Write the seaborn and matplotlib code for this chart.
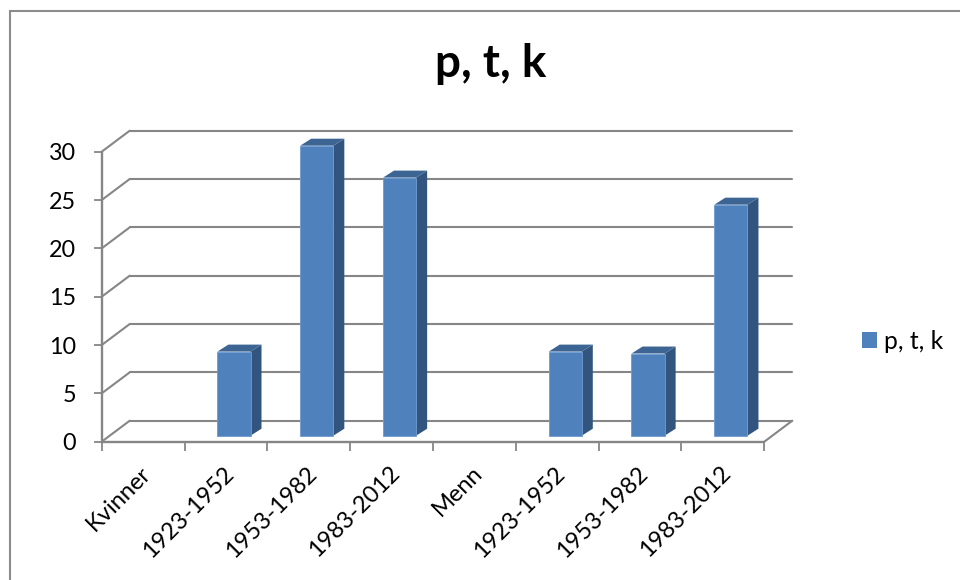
import matplotlib
matplotlib.use("Agg")
import matplotlib.pyplot as plt
import numpy as np
import seaborn as sns
from matplotlib.lines import Line2D
from matplotlib.patches import Polygon
from matplotlib.transforms import Affine2D

slots = list(range(8))
labels = ["Kvinner", "1923-1952", "1953-1982", "1983-2012",
          "Menn", "1923-1952", "1953-1982", "1983-2012"]
values = [np.nan, 8.7, 30.0, 26.7, np.nan, 8.7, 8.5, 23.9]
y_ticks = [0, 5, 10, 15, 20, 25, 30]
series_name = "p, t, k"

FRONT = "#4F81BD"
SIDE = "#32557F"
TOP = "#3D6594"
GRID = "#868686"
TEXT = "#000000"

sns.set_theme(style="white")
plt.rcParams["font.family"] = ["Lato", "DejaVu Sans"]

W, H = 960, 580
fig = plt.figure(figsize=(W / 100, H / 100), dpi=100, facecolor="white")
ax = fig.add_axes([101.7 / W, 1 - 441.7 / H, 662.6 / W, 290 / H])

sns.barplot(x=slots, y=values, order=slots, color=FRONT, width=0.4, saturation=1,
            label=series_name, legend=False, ax=ax, zorder=4)
ax.set_xlim(-0.5, 7.5)
ax.set_ylim(0, 30)
ax.set_xlabel("")
ax.set_ylabel("")
for spine in ax.spines.values():
    spine.set_visible(False)


def shifted(dx, dy):
    return ax.transData + Affine2D().translate(dx, dy)


# Back wall, side wall and floor of the pseudo-3D box
WALL_DX, WALL_DY = 28, 21
back = shifted(WALL_DX, WALL_DY)
for v in y_ticks:
    ax.add_line(Line2D([-0.5, 7.5], [v, v], transform=back, color=GRID, lw=1.5,
                       clip_on=False, zorder=1))
    (sx, sy) = ax.transData.transform((-0.5, v))
    ax.add_line(Line2D([sx, sx + WALL_DX], [sy, sy + WALL_DY], transform=None,
                       color=GRID, lw=1.5, clip_on=False, zorder=1))
(rx, ry) = ax.transData.transform((7.5, 0))
ax.add_line(Line2D([rx, rx + WALL_DX], [ry, ry + WALL_DY], transform=None,
                   color=GRID, lw=1.5, clip_on=False, zorder=1))
ax.add_line(Line2D([-0.5, -0.5], [0, 30], color=GRID, lw=1.7, clip_on=False, zorder=2))
ax.add_line(Line2D([-0.5, 7.5], [0, 0], color=GRID, lw=1.7, clip_on=False, zorder=2))

# Bars stand part-way into the floor, with side and top faces behind the front
BAR_DX, BAR_DY = 8, 6
DEPTH_X, DEPTH_Y = 11, 7
for bar in list(ax.patches):
    h = bar.get_height()
    if not np.isfinite(h) or h == 0:
        bar.set_visible(False)
        continue
    bar.set_transform(shifted(BAR_DX, BAR_DY))
    bar.set_edgecolor("#6F9BD1")
    bar.set_linewidth(0.6)
    bar.set_clip_on(False)
    x0, x1 = bar.get_x(), bar.get_x() + bar.get_width()
    (px0, py0), (px1, py1) = shifted(BAR_DX, BAR_DY).transform([(x0, 0), (x1, h)])
    side_face = Polygon([(px1, py0), (px1 + DEPTH_X, py0 + DEPTH_Y),
                         (px1 + DEPTH_X, py1 + DEPTH_Y), (px1, py1)],
                        transform=None, facecolor=SIDE, edgecolor="none",
                        clip_on=False, zorder=3)
    top_face = Polygon([(px0, py1), (px1, py1), (px1 + DEPTH_X, py1 + DEPTH_Y),
                        (px0 + DEPTH_X, py1 + DEPTH_Y)],
                       transform=None, facecolor=TOP, edgecolor="none",
                       clip_on=False, zorder=3)
    ax.add_patch(side_face)
    ax.add_patch(top_face)

# Ticks at category boundaries, labels at category centres
ax.set_xticks(np.arange(-0.5, 8, 1))
ax.set_xticklabels([])
ax.tick_params(axis="x", which="major", length=6.2, width=1.3, color=GRID,
               bottom=True, direction="out")
ax.set_xticks(slots, labels, minor=True, rotation=45, ha="right",
              rotation_mode="anchor", fontsize=17, color=TEXT)
ax.tick_params(axis="x", which="minor", length=0, pad=15)
for label in ax.get_xticklabels(minor=True):
    label.set_transform(label.get_transform() + Affine2D().translate(-3, 0))
ax.set_yticks(y_ticks)
ax.tick_params(axis="y", length=5.8, width=1.3, color=GRID, left=True, pad=12.5,
               labelsize=16.8, labelcolor=TEXT)

fig.text(491 / W, 1 - 64 / H, series_name, ha="center", va="center",
         fontsize=33, fontweight="bold", color=TEXT)

handles = [plt.Rectangle((0, 0), 1, 1, facecolor=FRONT, edgecolor="none")]
fig.legend(handles, [series_name], loc="center left",
           bbox_to_anchor=(862 / W, 1 - 341.5 / H), frameon=False, fontsize=17.8,
           handlelength=0.6, handleheight=0.6, handletextpad=0.3,
           borderpad=0, borderaxespad=0, labelcolor=TEXT)

# Chart frame running off the right and bottom edges
for xs, ys in (([10, W], [H - 11, H - 11]), ([10, 10], [H - 11, 0])):
    fig.add_artist(Line2D(np.array(xs) / W, np.array(ys) / H, color="#8C8C8C", lw=1.5))

fig.savefig("out.png", dpi=100)
